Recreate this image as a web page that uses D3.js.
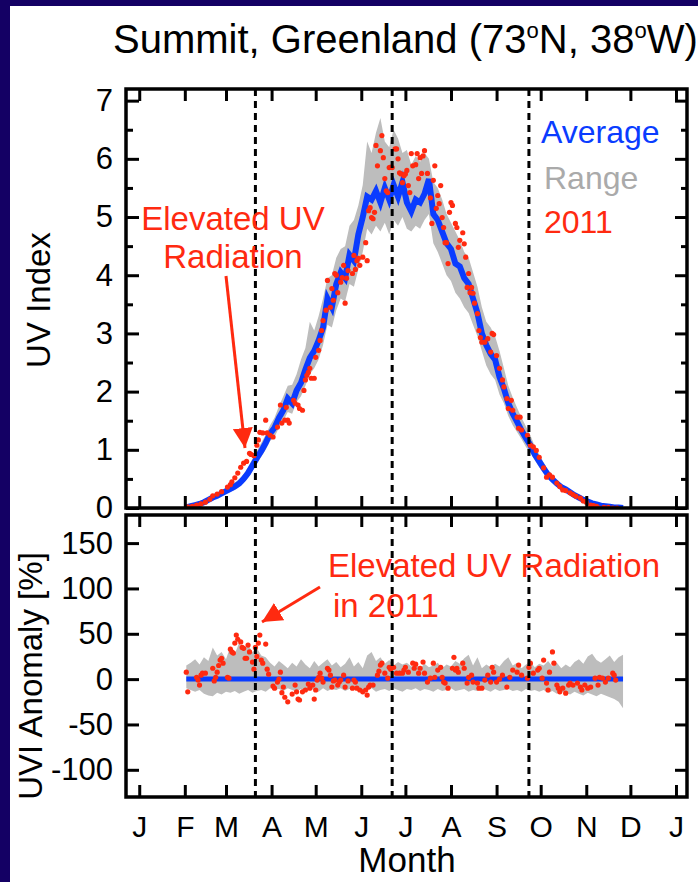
<!DOCTYPE html>
<html>
<head>
<meta charset="utf-8">
<script src="https://cdn.jsdelivr.net/npm/d3@7"></script>
<style>
  body { margin: 0; background: #ffffff; }
  svg { display: block; font-family: "Liberation Sans", Arial, Helvetica, sans-serif; }
</style>
</head>
<body>
<svg id="chart" width="698" height="882"></svg>
<script>
// ---- Calendar --------------------------------------------------------------
const monthStarts = [0, 31, 59, 90, 120, 151, 181, 212, 243, 273, 304, 334, 365];
const monthLabels = ["J", "F", "M", "A", "M", "J", "J", "A", "S", "O", "N", "D", "J"];
// spring equinox, summer solstice, autumn equinox (day of year)
const seasonMarkers = [79, 172, 265];

// ---- Climatology (day of year, UV Index) ------------------------------------
const climDays = [32, 35, 38, 41, 44, 47, 50, 53, 56, 59, 62, 65, 68, 71, 74, 77, 80, 83, 86, 89,
  92, 95, 98, 101, 104, 107, 110, 113, 116, 119, 122, 125, 128, 131, 134, 137, 140, 143, 146, 149,
  152, 155, 158, 161, 164, 167, 170, 173, 176, 179, 182, 185, 188, 191, 194, 197, 200, 203, 206, 209,
  212, 215, 218, 221, 224, 227, 230, 233, 236, 239, 242, 245, 248, 251, 254, 257, 260, 263, 266, 269,
  272, 275, 278, 281, 284, 287, 290, 293, 296, 299, 302, 305, 308, 311, 314, 317, 320, 323, 326, 329];

const uviAverage = [0.01, 0.03, 0.05, 0.07, 0.10, 0.14, 0.18, 0.21, 0.25, 0.29, 0.33, 0.37, 0.42, 0.50, 0.60, 0.73, 0.86, 0.98, 1.12, 1.28,
  1.38, 1.55, 1.68, 1.88, 1.80, 2.02, 2.15, 2.38, 2.58, 2.70, 2.88, 3.10, 3.60, 3.45, 3.85, 4.05, 3.95, 4.35, 4.25, 4.70,
  5.00, 5.35, 5.30, 5.45, 5.25, 5.50, 5.30, 5.55, 5.35, 5.60, 5.25, 5.10, 5.30, 5.25, 5.40, 5.65, 5.05, 4.95, 4.75, 4.55,
  4.45, 4.20, 4.15, 3.95, 3.85, 3.60, 3.35, 3.00, 2.80, 2.65, 2.55, 2.25, 2.05, 1.80, 1.62, 1.48, 1.33, 1.20, 1.08, 0.92,
  0.80, 0.68, 0.57, 0.49, 0.42, 0.36, 0.32, 0.27, 0.22, 0.18, 0.14, 0.11, 0.08, 0.06, 0.04, 0.03, 0.02, 0.01, 0.01, 0.00];

const uviRangeLow = [0.00, 0.02, 0.04, 0.06, 0.08, 0.11, 0.15, 0.18, 0.21, 0.25, 0.28, 0.31, 0.36, 0.43, 0.52, 0.63, 0.76, 0.88, 1.00, 1.15,
  1.22, 1.38, 1.50, 1.65, 1.62, 1.82, 1.92, 2.10, 2.30, 2.40, 2.55, 2.80, 3.15, 3.10, 3.40, 3.60, 3.55, 3.85, 3.80, 4.10,
  4.40, 4.80, 4.70, 4.85, 4.75, 4.90, 4.70, 4.95, 4.85, 5.00, 4.80, 4.75, 4.85, 4.80, 4.95, 5.05, 4.55, 4.40, 4.20, 4.00,
  3.90, 3.70, 3.60, 3.45, 3.35, 3.15, 2.95, 2.70, 2.45, 2.30, 2.20, 1.95, 1.80, 1.58, 1.42, 1.30, 1.18, 1.05, 0.95, 0.82,
  0.70, 0.60, 0.50, 0.43, 0.36, 0.31, 0.27, 0.23, 0.19, 0.15, 0.12, 0.09, 0.06, 0.04, 0.03, 0.02, 0.01, 0.00, 0.00, 0.00];

const uviRangeHigh = [0.02, 0.04, 0.06, 0.09, 0.12, 0.16, 0.21, 0.25, 0.29, 0.34, 0.38, 0.44, 0.50, 0.58, 0.70, 0.84, 0.98, 1.12, 1.26, 1.42,
  1.55, 1.75, 1.92, 2.10, 2.12, 2.30, 2.55, 2.75, 3.20, 3.05, 3.30, 3.60, 3.95, 4.00, 4.30, 4.45, 4.50, 4.85, 4.95, 5.20,
  5.55, 6.30, 6.10, 6.45, 6.70, 6.30, 6.20, 6.50, 6.35, 6.10, 6.15, 5.90, 6.05, 5.95, 6.10, 6.00, 5.60, 5.50, 5.30, 5.05,
  4.90, 4.75, 4.60, 4.40, 4.30, 4.05, 3.80, 3.45, 3.20, 3.10, 2.95, 2.70, 2.40, 2.10, 1.90, 1.72, 1.55, 1.40, 1.25, 1.06,
  0.92, 0.78, 0.66, 0.56, 0.48, 0.41, 0.37, 0.31, 0.26, 0.21, 0.17, 0.13, 0.10, 0.08, 0.06, 0.04, 0.03, 0.02, 0.01, 0.01];

// Anomaly range of the climatology (percent)
const anomalyRangeLow = [-10, -12, -14, -12, -16, -18, -19, -15, -17, -14, -15, -13, -16, -14, -12, -15, -13, -12, -14, -10,
  -12, -11, -13, -10, -12, -14, -11, -13, -10, -12, -14, -10, -13, -11, -12, -10, -13, -11, -12, -10,
  -13, -12, -10, -14, -12, -11, -13, -10, -12, -14, -11, -12, -10, -13, -11, -12, -14, -11, -13, -12,
  -10, -13, -12, -11, -14, -12, -13, -10, -12, -14, -11, -13, -12, -11, -13, -12, -14, -11, -13, -12,
  -14, -12, -15, -13, -16, -14, -15, -17, -14, -16, -18, -15, -17, -19, -16, -18, -20, -22, -25, -32];

const anomalyRangeHigh = [15, 18, 22, 16, 24, 20, 35, 26, 30, 22, 36, 28, 40, 32, 38, 30, 34, 26, 24, 18,
  14, 20, 16, 12, 18, 14, 22, 16, 12, 20, 14, 18, 22, 15, 19, 13, 17, 24, 14, 19,
  12, 26, 30, 20, 24, 17, 21, 15, 19, 16, 18, 14, 16, 12, 17, 13, 15, 18, 12, 16,
  14, 20, 17, 23, 27, 15, 24, 12, 16, 13, 17, 14, 20, 24, 15, 18, 12, 16, 19, 13,
  17, 15, 20, 14, 18, 12, 16, 13, 19, 22, 17, 25, 28, 21, 18, 22, 26, 19, 24, 27];

// ---- 2011 daily observations (day of year, UV Index) ------------------------
const obsDays2011 = [33, 36, 39, 42, 45, 48, 50, 53, 56, 60, 62, 63, 65, 67, 69, 71, 73, 75, 76, 78,
  80, 81, 82, 84, 86, 87, 89, 91, 94, 96, 97, 99, 100, 101, 102, 105, 106, 108, 109, 111,
  112, 113, 114, 115, 116, 117, 119, 120, 122, 123, 124, 125, 127, 128, 130, 131, 132, 133, 134, 135,
  137, 138, 139, 140, 141, 142, 145, 146, 147, 148, 149, 150, 152, 154, 155, 156, 157, 158, 159, 160,
  161, 162, 164, 165, 166, 167, 168, 169, 170, 171, 172, 174, 175, 176, 177, 178, 179, 180, 181, 182,
  183, 184, 185, 186, 188, 189, 190, 191, 192, 193, 194, 196, 198, 199, 200, 201, 202, 203, 204, 205,
  206, 207, 208, 209, 210, 211, 212, 213, 215, 216, 217, 218, 220, 221, 222, 223, 224, 225, 226, 227,
  228, 230, 231, 232, 233, 235, 237, 239, 240, 241, 243, 245, 247, 248, 250, 251, 253, 254, 257, 258,
  259, 260, 264, 266, 268, 270, 272, 275, 277, 279, 281, 284, 286, 288, 290, 293, 295, 297, 300, 302,
  304, 307, 309, 311, 313, 316, 319, 322, 325];

const uvi2011 = [0.02, 0.03, 0.05, 0.07, 0.10, 0.15, 0.21, 0.24, 0.28, 0.36, 0.40, 0.45, 0.52, 0.60, 0.70, 0.77, 0.80, 0.94, 0.92, 0.90,
  1.08, 1.17, 1.30, 1.29, 1.51, 1.29, 1.25, 1.22, 1.39, 1.77, 1.46, 1.51, 1.73, 1.51, 1.46, 1.85, 1.80, 1.77, 1.71, 1.68,
  2.02, 2.20, 2.28, 2.33, 2.40, 2.23, 2.23, 2.59, 2.71, 2.88, 3.05, 3.22, 3.40, 3.91, 3.45, 3.77, 3.57, 4.03, 4.00, 3.70,
  3.88, 3.96, 4.17, 3.52, 3.95, 4.08, 4.03, 4.34, 4.10, 4.25, 4.29, 4.17, 4.31, 4.56, 4.25, 5.11, 5.16, 4.99, 4.97, 5.08,
  6.23, 5.88, 6.14, 6.40, 6.02, 5.66, 5.45, 5.42, 5.85, 5.86, 5.85, 6.17, 6.17, 6.00, 5.76, 5.74, 5.59, 5.71, 5.74, 5.80,
  5.54, 5.42, 6.09, 5.88, 5.90, 6.09, 5.66, 6.02, 5.75, 6.05, 6.14, 5.75, 5.33, 4.89, 5.63, 5.88, 5.15, 5.37, 5.23, 5.54,
  4.99, 4.82, 4.56, 4.56, 4.20, 5.08, 5.25, 5.20, 4.89, 4.82, 4.48, 4.60, 4.73, 4.54, 4.31, 3.79, 4.03, 3.70, 3.79, 3.69,
  3.52, 3.34, 3.05, 2.93, 2.85, 2.85, 2.91, 2.68, 3.00, 2.98, 2.62, 2.40, 2.20, 2.08, 1.88, 1.71, 1.85, 1.68, 1.56, 1.37,
  1.56, 1.34, 1.25, 1.08, 1.05, 0.99, 0.87, 0.69, 0.53, 0.57, 0.53, 0.43, 0.37, 0.31, 0.30, 0.26, 0.23, 0.20, 0.17, 0.12,
  0.10, 0.05, 0.04, 0.03, 0.00, 0.01, 0.01, 0.00, 0.00];

// ---- 2011 anomaly relative to the climatology (day of year, percent) --------
const anomDays2011 = [32, 33, 39, 40, 41, 42, 43, 45, 50, 51, 52, 53, 54, 55, 56, 57, 60, 61, 62, 63,
  64, 65, 66, 67, 69, 70, 71, 72, 73, 74, 75, 77, 78, 79, 80, 81, 82, 83, 84, 86,
  87, 88, 91, 92, 94, 95, 96, 97, 98, 99, 101, 104, 106, 107, 108, 109, 111, 113, 115, 116,
  118, 119, 120, 121, 122, 123, 124, 125, 128, 129, 130, 131, 132, 133, 135, 136, 137, 139, 140, 142,
  145, 146, 147, 148, 150, 152, 154, 155, 156, 157, 159, 162, 163, 164, 165, 167, 169, 170, 171, 173,
  175, 177, 179, 180, 181, 183, 186, 187, 188, 190, 191, 193, 194, 196, 198, 200, 201, 203, 205, 206,
  207, 208, 210, 213, 214, 215, 216, 217, 220, 221, 223, 224, 226, 227, 230, 231, 233, 235, 237, 239,
  240, 241, 243, 245, 247, 250, 252, 254, 257, 258, 260, 264, 265, 266, 268, 271, 272, 274, 275, 277,
  278, 279, 281, 282, 284, 285, 286, 288, 290, 292, 293, 295, 298, 300, 301, 303, 305, 307, 310, 312,
  313, 315, 317, 319, 322, 323, 324];

const anomaly2011 = [7.7, -14, 2, -1, -6.6, 4.4, 6.6, 6.6, 12, -2, 2, 7.7, 15, 21, 23, 17.6, 2, 1, 33, 30,
  28.7, 39.7, 48.6, 44, 41, 35, 34, 23, 23, 37.5, 30, 18.8, 11, 35, 25, 39.7, 48.6, 21, 17.6, 38.6,
  11, 5.5, -7.7, -10, -3.3, 0, 7.7, -15, -8.8, -20, -25, -16.5, -6.6, -14, -22, -23, -14, -12, -5.5, -10,
  -6.6, -22, -12, -1, 2, 6.6, 1, -3.3, 12, 10, 4.4, -8.8, -2, -1, -6.6, -3.3, -1, 4.4, -8.8, -2,
  -10, -1, -3.3, -10, -12, -14, -12, -17.6, -8.8, -6.6, -6.6, 4.4, 8.8, 15.5, 17.6, 6.6, 1, 13, 11, 13,
  6.6, 6.6, 6.6, 10, 13, 7.7, 17.6, 12, 16.5, 6.6, 12, 18.8, 6.6, -3.3, 1, 17.6, 2, 10, 13, 2,
  -3.3, -4.4, -10, 12, 24, 10, 12, 7.7, 17.6, 12, -4.4, 2, 4.4, -3.3, -4.4, -10, -10, -1, 4.4, -3.3,
  13, 7.7, -3.3, 0, 4.4, -8.8, 2, 10, 7.7, 15.5, 4.4, 1, 13, 17.6, 6.6, 10, 12, 1, 21, -4.4,
  -12, 7.7, 30, 17.6, -6.6, -10, -14, -10, -15.5, -6.6, -4.4, -6.6, -4.4, -8.8, -12, -6.6, -10, -8.8, 1, -6.6,
  2, 1, -3.3, 1, 6.6, 4.4, -1];

// ---- Axis ticks --------------------------------------------------------------
const uviTicks = [0, 1, 2, 3, 4, 5, 6, 7];
const uviMinorTicks = [0.5, 1.5, 2.5, 3.5, 4.5, 5.5, 6.5];
const anomalyTicks = [-100, -50, 0, 50, 100, 150];

// ---- Colours -------------------------------------------------------------
const C_FRAME_BG = "#140064";
const C_AVG = "#0a3cff";
const C_RANGE = "#bdbdbd";
const C_2011 = "#ff2a10";

// ---- Layout ----------------------------------------------------------------
const W = 698, H = 882;
const plotLeft = 126, plotRight = 687;
const top1 = 89, bottom1 = 508;
const top2 = 515, bottom2 = 797;

const svg = d3.select("#chart");

// dark border along the top and left edge
svg.append("rect").attr("x", 0).attr("y", 0).attr("width", W).attr("height", H).attr("fill", C_FRAME_BG);
svg.append("rect").attr("x", 10).attr("y", 6).attr("width", W - 10).attr("height", H - 6).attr("fill", "#ffffff");

const x = d3.scaleLinear().domain([-9, 372.5]).range([plotLeft, plotRight]);
const yUvi = d3.scaleLinear().domain([0, 7.2]).range([bottom1, top1]);
const yAnom = d3.scaleLinear().domain([-130, 181]).range([bottom2, top2]);

const defs = svg.append("defs");
defs.append("clipPath").attr("id", "clip1").append("rect")
  .attr("x", plotLeft).attr("y", top1).attr("width", plotRight - plotLeft).attr("height", bottom1 - top1);
defs.append("clipPath").attr("id", "clip2").append("rect")
  .attr("x", plotLeft).attr("y", top2).attr("width", plotRight - plotLeft).attr("height", bottom2 - top2);

// ---- Title ---------------------------------------------------------------
const title = svg.append("text").attr("x", 113).attr("y", 53).attr("font-size", 40).attr("fill", "#000");
title.append("tspan").text("Summit, Greenland (73");
title.append("tspan").attr("font-size", 22).attr("dy", -15).text("o");
title.append("tspan").attr("dy", 15).text("N, 38");
title.append("tspan").attr("font-size", 22).attr("dy", -15).text("o");
title.append("tspan").attr("dy", 15).text("W)");

// ---- Upper panel: UV Index ---------------------------------------------------
const clim = climDays.map((d, i) => ({ day: d, avg: uviAverage[i], lo: uviRangeLow[i], hi: uviRangeHigh[i],
  alo: anomalyRangeLow[i], ahi: anomalyRangeHigh[i] }));

const g1 = svg.append("g").attr("clip-path", "url(#clip1)");
g1.append("path").datum(clim).attr("fill", C_RANGE)
  .attr("d", d3.area().x(d => x(d.day)).y0(d => yUvi(d.lo)).y1(d => yUvi(d.hi)));
g1.append("path").datum(clim).attr("fill", "none").attr("stroke", C_AVG).attr("stroke-width", 6)
  .attr("stroke-linejoin", "miter")
  .attr("d", d3.line().x(d => x(d.day)).y(d => yUvi(d.avg)));
g1.selectAll("circle.obs").data(obsDays2011.map((d, i) => ({ day: d, v: uvi2011[i] })))
  .join("circle").attr("class", "obs")
  .attr("cx", d => x(d.day)).attr("cy", d => yUvi(d.v)).attr("r", 2.6).attr("fill", C_2011);

// ---- Lower panel: anomaly ----------------------------------------------------
const g2 = svg.append("g").attr("clip-path", "url(#clip2)");
g2.append("path").datum(clim).attr("fill", C_RANGE)
  .attr("d", d3.area().x(d => x(d.day)).y0(d => yAnom(d.alo)).y1(d => yAnom(d.ahi)));
g2.append("path").datum([climDays[0], climDays[climDays.length - 1]])
  .attr("fill", "none").attr("stroke", C_AVG).attr("stroke-width", 5)
  .attr("d", d3.line().x(d => x(d)).y(() => yAnom(0)));
g2.selectAll("circle.anom").data(anomDays2011.map((d, i) => ({ day: d, v: anomaly2011[i] })))
  .join("circle").attr("class", "anom")
  .attr("cx", d => x(d.day)).attr("cy", d => yAnom(d.v)).attr("r", 2.6).attr("fill", C_2011);

// ---- Equinox / solstice markers ---------------------------------------------
[[top1, bottom1], [top2, bottom2]].forEach(([t, b]) => {
  svg.append("g").selectAll("line").data(seasonMarkers).join("line")
    .attr("x1", d => x(d)).attr("x2", d => x(d)).attr("y1", t).attr("y2", b)
    .attr("stroke", "#000").attr("stroke-width", 3).attr("stroke-dasharray", "7,5");
});

// ---- Axes ------------------------------------------------------------------
function styleAxis(sel) {
  sel.select(".domain").remove();
  sel.selectAll(".tick line").attr("stroke", "#000").attr("stroke-width", 3);
  sel.selectAll(".tick text").attr("font-size", 31).attr("fill", "#000")
    .attr("font-family", "'Liberation Sans', Arial, sans-serif");
}
const noLabel = () => "";
const plainNumber = d => String(d);   // ASCII hyphen for negatives

// month ticks on the top and bottom of both panels
[[top1, bottom1], [top2, bottom2]].forEach(([t, b], k) => {
  svg.append("g").attr("transform", `translate(0,${t})`)
    .call(d3.axisTop(x).tickValues(monthStarts).tickSize(-12).tickFormat(noLabel)).call(styleAxis);
  const ax = svg.append("g").attr("transform", `translate(0,${b})`)
    .call(d3.axisBottom(x).tickValues(monthStarts).tickSize(-12).tickPadding(10)
      .tickFormat((d, i) => k === 1 ? monthLabels[i] : "")).call(styleAxis);
  if (k === 1) ax.selectAll(".tick text").attr("dy", "1em").attr("font-size", 30);
});

// upper panel Y axes
svg.append("g").attr("transform", `translate(${plotLeft},0)`)
  .call(d3.axisLeft(yUvi).tickValues(uviTicks).tickSize(-13).tickPadding(13).tickFormat(plainNumber))
  .call(styleAxis);
svg.append("g").attr("transform", `translate(${plotLeft},0)`)
  .call(d3.axisLeft(yUvi).tickValues(uviMinorTicks).tickSize(-7).tickFormat(noLabel)).call(styleAxis);
svg.append("g").attr("transform", `translate(${plotRight},0)`)
  .call(d3.axisRight(yUvi).tickValues(uviTicks).tickSize(-12).tickFormat(noLabel)).call(styleAxis);
svg.append("g").attr("transform", `translate(${plotRight},0)`)
  .call(d3.axisRight(yUvi).tickValues(uviMinorTicks).tickSize(-6).tickFormat(noLabel)).call(styleAxis);

// lower panel Y axes
svg.append("g").attr("transform", `translate(${plotLeft},0)`)
  .call(d3.axisLeft(yAnom).tickValues(anomalyTicks).tickSize(-13).tickPadding(13).tickFormat(plainNumber))
  .call(styleAxis);
svg.append("g").attr("transform", `translate(${plotRight},0)`)
  .call(d3.axisRight(yAnom).tickValues(anomalyTicks).tickSize(-12).tickFormat(noLabel)).call(styleAxis);

// panel frames
[[top1, bottom1], [top2, bottom2]].forEach(([t, b]) => {
  svg.append("rect").attr("x", plotLeft).attr("y", t).attr("width", plotRight - plotLeft).attr("height", b - t)
    .attr("fill", "none").attr("stroke", "#000").attr("stroke-width", 3.5);
});

// ---- Axis titles -------------------------------------------------------------
svg.append("text").attr("transform", "translate(50,300) rotate(-90)").attr("text-anchor", "middle")
  .attr("font-size", 33).text("UV Index");
svg.append("text").attr("transform", "translate(42,676) rotate(-90)").attr("text-anchor", "middle")
  .attr("font-size", 33).text("UVI Anomaly [%]");
svg.append("text").attr("x", 407).attr("y", 872).attr("text-anchor", "middle")
  .attr("font-size", 35).text("Month");

// ---- Legend ----------------------------------------------------------------
const legend = [["Average", C_AVG, 143], ["Range", "#aaaaaa", 189], ["2011", C_2011, 233]];
svg.append("g").selectAll("text").data(legend).join("text")
  .attr("x", (d, i) => i === 0 ? 541 : 544).attr("y", d => d[2]).attr("font-size", 32)
  .attr("fill", d => d[1]).text(d => d[0]);

// ---- Annotations -------------------------------------------------------------
defs.append("marker").attr("id", "head").attr("viewBox", "0 0 10 10").attr("refX", 10).attr("refY", 5)
  .attr("markerUnits", "userSpaceOnUse").attr("markerWidth", 20).attr("markerHeight", 20)
  .attr("orient", "auto")
  .append("path").attr("d", "M0,0 L10,5 L0,10 Z").attr("fill", C_2011);

const note1 = svg.append("text").attr("text-anchor", "middle").attr("font-size", 33).attr("fill", C_2011);
note1.append("tspan").attr("x", 233).attr("y", 230).text("Elevated UV");
note1.append("tspan").attr("x", 233).attr("y", 268).text("Radiation");
svg.append("line").attr("x1", 226).attr("y1", 276).attr("x2", 245).attr("y2", 448)
  .attr("stroke", C_2011).attr("stroke-width", 3).attr("marker-end", "url(#head)");

const note2 = svg.append("text").attr("font-size", 33).attr("fill", C_2011);
note2.append("tspan").attr("x", 328).attr("y", 577).text("Elevated UV Radiation");
note2.append("tspan").attr("x", 333).attr("y", 617).text("in 2011");
svg.append("line").attr("x1", 320).attr("y1", 587).attr("x2", 262).attr("y2", 622)
  .attr("stroke", C_2011).attr("stroke-width", 3).attr("marker-end", "url(#head)");
</script>
</body>
</html>
